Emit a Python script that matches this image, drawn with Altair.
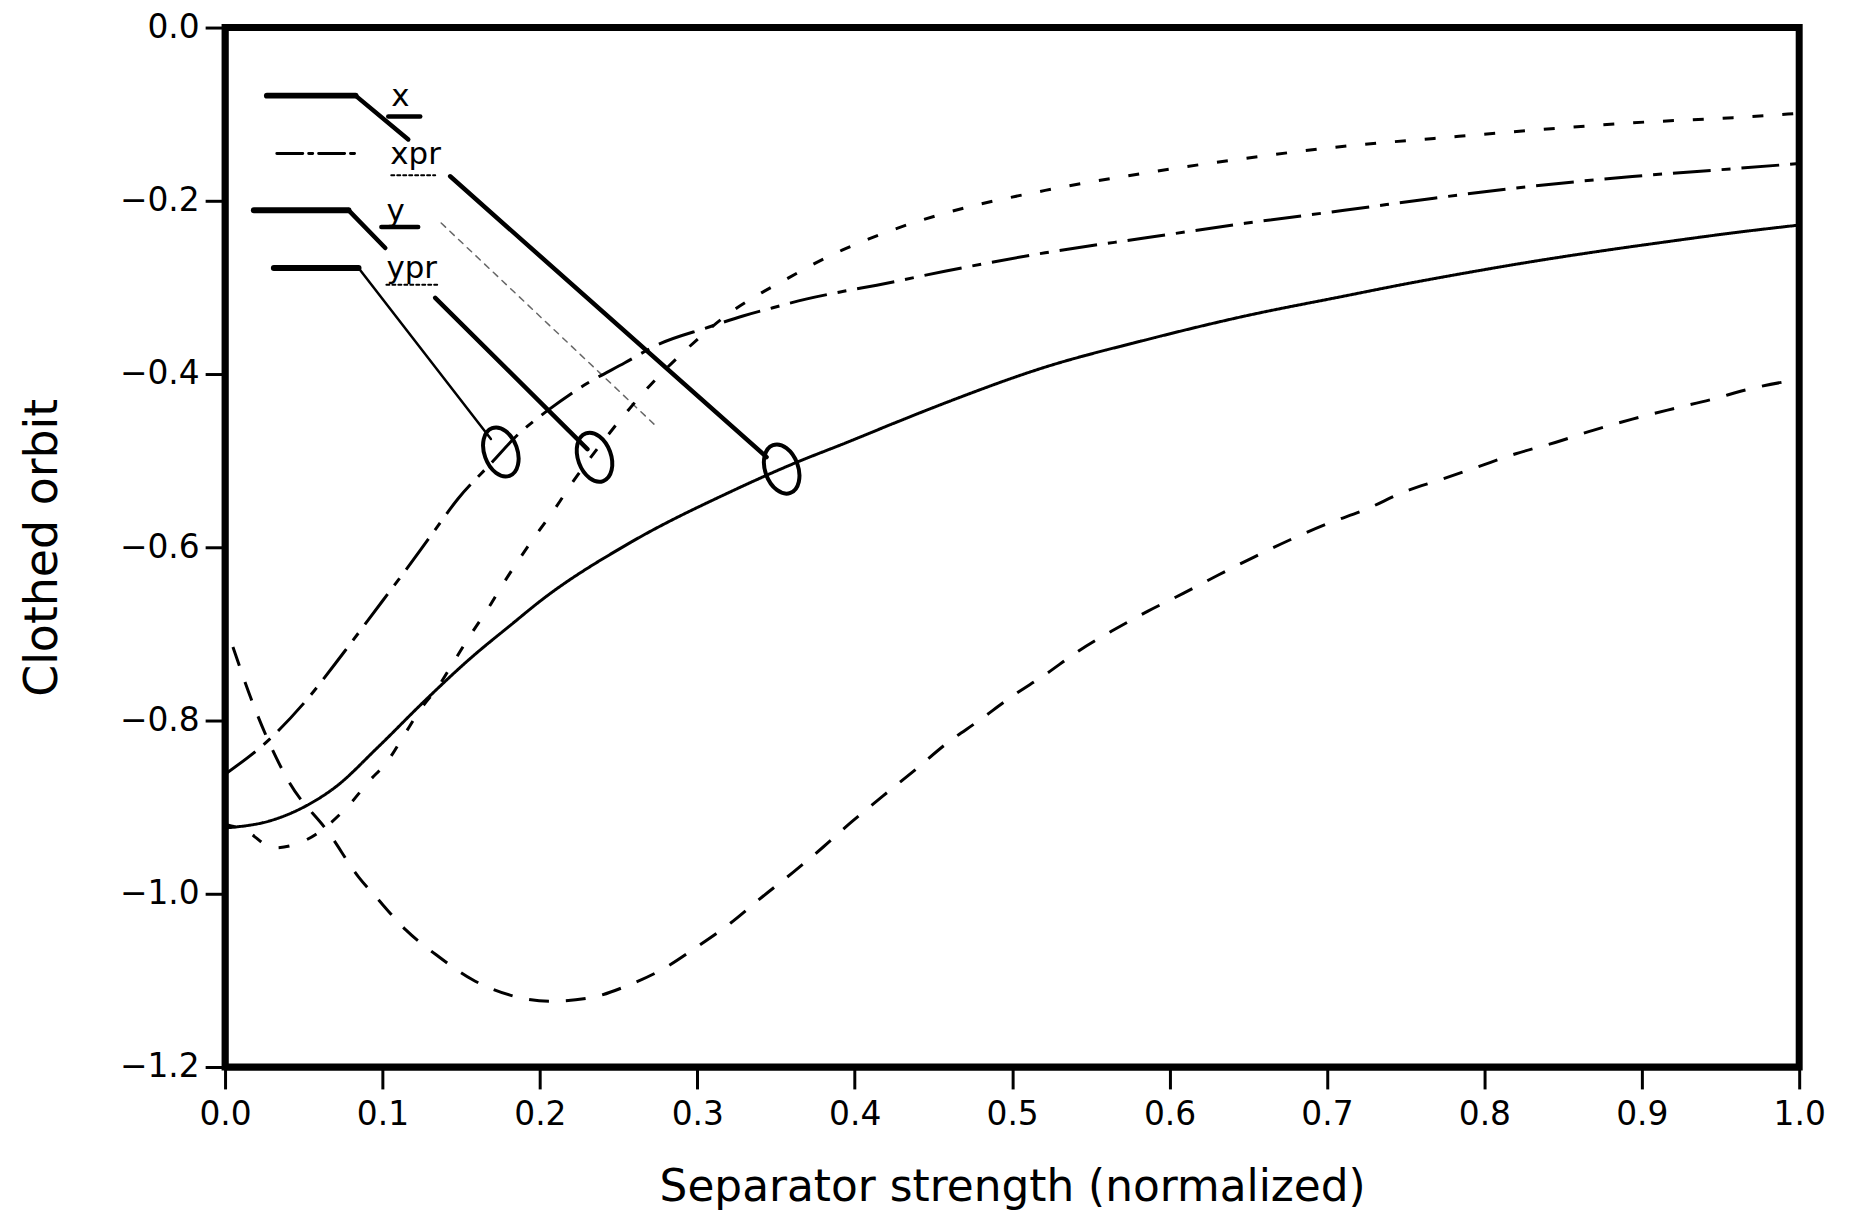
import altair as alt
import pandas as pd

# ---- curve data ----
sep_x = [0.0, 0.03, 0.052, 0.07, 0.097, 0.127, 0.156, 0.182, 0.201, 0.258, 0.321, 0.363,
         0.395, 0.426, 0.458, 0.521, 0.584, 0.648, 0.711, 0.747, 0.789, 0.831, 0.874,
         0.915, 0.958, 1.0]
orbit_x = [-0.924, -0.915, -0.898, -0.877, -0.831, -0.777, -0.728, -0.689, -0.661, -0.594,
           -0.536, -0.502, -0.479, -0.456, -0.433, -0.392, -0.361, -0.333, -0.310, -0.297,
           -0.283, -0.270, -0.258, -0.2475, -0.237, -0.228]

sep_xpr = [0.0, 0.028, 0.051, 0.076, 0.100, 0.110, 0.131, 0.148, 0.169, 0.186, 0.205, 0.228,
           0.254, 0.275, 0.307, 0.329, 0.348, 0.369, 0.393, 0.414, 0.458, 0.521, 0.584,
           0.648, 0.711, 0.768, 0.831, 0.894, 0.958, 1.0]
orbit_xpr = [-0.862, -0.822, -0.778, -0.720, -0.662, -0.638, -0.586, -0.544, -0.503, -0.470,
             -0.442, -0.413, -0.387, -0.366, -0.346, -0.333, -0.3235, -0.3135, -0.3045,
             -0.2975, -0.281, -0.260, -0.243, -0.226, -0.211, -0.197, -0.183, -0.172, -0.163,
             -0.157]

sep_y = [0.005, 0.017, 0.040, 0.066, 0.085, 0.096, 0.115, 0.136, 0.157, 0.181, 0.207, 0.232,
         0.257, 0.279, 0.300, 0.321, 0.341, 0.361, 0.380, 0.398, 0.418, 0.439, 0.458, 0.479,
         0.500, 0.521, 0.542, 0.563, 0.586, 0.609, 0.631, 0.654, 0.677, 0.700, 0.725, 0.749,
         0.772, 0.796, 0.820, 0.845, 0.869, 0.894, 0.920, 0.945, 0.969, 1.0]
orbit_y = [-0.715, -0.777, -0.869, -0.930, -0.981, -1.004, -1.042, -1.073, -1.099, -1.117,
           -1.124, -1.120, -1.105, -1.086, -1.061, -1.034, -1.004, -0.975, -0.946, -0.917,
           -0.887, -0.856, -0.827, -0.800, -0.772, -0.747, -0.720, -0.697, -0.674, -0.653,
           -0.632, -0.611, -0.591, -0.573, -0.556, -0.536, -0.522, -0.507, -0.492, -0.479,
           -0.465, -0.452, -0.440, -0.429, -0.417, -0.406]

sep_ypr = [0.0, 0.013, 0.031, 0.049, 0.0795, 0.091, 0.104, 0.114, 0.125, 0.135, 0.146, 0.156,
           0.168, 0.175, 0.199, 0.209, 0.220, 0.243, 0.256, 0.268, 0.294, 0.324, 0.341, 0.358,
           0.375, 0.392, 0.409, 0.425, 0.458, 0.521, 0.584, 0.648, 0.711, 0.768, 0.831, 0.894,
           0.958, 1.0]
orbit_ypr = [-0.920, -0.927, -0.947, -0.940, -0.896, -0.871, -0.845, -0.816, -0.785, -0.762,
             -0.730, -0.701, -0.668, -0.647, -0.582, -0.557, -0.527, -0.471, -0.442, -0.417,
             -0.370, -0.325, -0.306, -0.289, -0.272, -0.257, -0.244, -0.233, -0.214, -0.188,
             -0.168, -0.151, -0.137, -0.128, -0.1185, -0.110, -0.104, -0.099]

series_names = ["x", "xpr", "y", "ypr"]
x_ticks = [0.0, 0.1, 0.2, 0.3, 0.4, 0.5, 0.6, 0.7, 0.8, 0.9, 1.0]
y_ticks = [0.0, -0.2, -0.4, -0.6, -0.8, -1.0, -1.2]

# ---- hand-drawn legend / annotation (in data units) ----
leg_label = ["x", "xpr", "y", "ypr"]
leg_label_sep = [0.1056, 0.105, 0.1025, 0.1025]
leg_label_orbit = [-0.091, -0.157, -0.2235, -0.289]

thick_sep1 = [0.0266, 0.0183, 0.031]
thick_sep2 = [0.0829, 0.0784, 0.0848]
thick_orbit = [-0.0786, -0.2108, -0.2775]

xpr_leg_sep = [0.0329, 0.086]
xpr_leg_orbit = [-0.1453, -0.1453]

arrow_sep1 = [0.0829, 0.0784, 0.143, 0.1335]
arrow_sep2 = [0.1164, 0.1018, 0.344, 0.2302]
arrow_orbit1 = [-0.0786, -0.2108, -0.1717, -0.312]
arrow_orbit2 = [-0.1292, -0.2545, -0.4959, -0.4867]

thin_sep1 = [0.0848]
thin_sep2 = [0.1689]
thin_orbit1 = [-0.2775]
thin_orbit2 = [-0.475]

faint_sep1 = [0.1373]
faint_sep2 = [0.2726]
faint_orbit1 = [-0.2257]
faint_orbit2 = [-0.458]

uline_sep1 = [0.1037, 0.0993]
uline_sep2 = [0.124, 0.1227]
uline_orbit = [-0.1028, -0.2303]

dot_uline_sep1 = [0.1056, 0.1025]
dot_uline_sep2 = [0.1335, 0.1366]
dot_uline_orbit = [-0.1706, -0.297]

loop_sep = [0.3536, 0.2347, 0.1752]
loop_orbit = [-0.5097, -0.496, -0.490]

# ---- build tables ----
rows = []
for name, xs, ys in zip(series_names,
                        [sep_x, sep_xpr, sep_y, sep_ypr],
                        [orbit_x, orbit_xpr, orbit_y, orbit_ypr]):
    for a, b in zip(xs, ys):
        rows.append({"series": name, "sep": a, "orbit": b})
curves = pd.DataFrame(rows)

FONT = "DejaVu Sans"

xscale = alt.Scale(domain=[0, 1], nice=False, zero=False)
yscale = alt.Scale(domain=[-1.2, 0], nice=False, zero=False)

x_axis = alt.Axis(values=x_ticks, format=".1f", title="Separator strength (normalized)",
                  grid=False, domainWidth=6, domainColor="black", tickWidth=3, tickSize=22,
                  tickColor="black", labelFontSize=33, labelFont=FONT, labelPadding=10,
                  labelColor="black", labelFlush=False, titleFontSize=44, titleFont=FONT,
                  titleFontWeight="normal", titleColor="black", titleY=134,
                  titleBaseline="alphabetic")
y_axis = alt.Axis(values=y_ticks, format=".1f", title="Clothed orbit", grid=False,
                  domainWidth=6, domainColor="black", tickWidth=3, tickSize=20,
                  tickColor="black", labelFontSize=33, labelFont=FONT, labelPadding=6,
                  labelColor="black", labelFlush=False, titleFontSize=46, titleFont=FONT,
                  titleFontWeight="normal", titleColor="black", titleX=-169, titleY=522,
                  titleAngle=270, titleBaseline="alphabetic", titleAlign="center")

lines = alt.Chart(curves).mark_line(color="black", strokeWidth=3, interpolate="monotone",
                                    clip=True, strokeCap="butt").encode(
    x=alt.X("sep:Q", scale=xscale, axis=x_axis),
    y=alt.Y("orbit:Q", scale=yscale, axis=y_axis),
    detail="series:N",
    strokeDash=alt.StrokeDash("series:N",
                              scale=alt.Scale(domain=series_names,
                                              range=[[1, 0], [38, 11, 9, 11], [20, 17], [11, 19]]),
                              legend=None),
)


def seg_layer(s1, s2, o1, o2, **mark):
    df = pd.DataFrame({"s1": s1, "s2": s2, "o1": o1, "o2": o2})
    return alt.Chart(df).mark_rule(color="black", strokeCap="round", **mark).encode(
        x=alt.X("s1:Q", scale=xscale), x2="s2:Q",
        y=alt.Y("o1:Q", scale=yscale), y2="o2:Q")


thick = seg_layer(thick_sep1, thick_sep2, thick_orbit, thick_orbit, strokeWidth=6)
xpr_leg = seg_layer(xpr_leg_sep[:1], xpr_leg_sep[1:], xpr_leg_orbit[:1], xpr_leg_orbit[1:],
                    strokeWidth=3, strokeDash=[26, 6, 4, 6])
arrows = seg_layer(arrow_sep1, arrow_sep2, arrow_orbit1, arrow_orbit2, strokeWidth=4.5)
thin = seg_layer(thin_sep1, thin_sep2, thin_orbit1, thin_orbit2, strokeWidth=2.5)
faint = seg_layer(faint_sep1, faint_sep2, faint_orbit1, faint_orbit2, strokeWidth=1.5,
                  strokeDash=[6, 6], opacity=0.6)
ulines = seg_layer(uline_sep1, uline_sep2, uline_orbit, uline_orbit, strokeWidth=4.5)
dot_ulines = seg_layer(dot_uline_sep1, dot_uline_sep2, dot_uline_orbit, dot_uline_orbit,
                       strokeWidth=2, strokeDash=[3, 3])

loops_df = pd.DataFrame({"s": loop_sep, "o": loop_orbit})
loops = alt.Chart(loops_df).mark_point(
    shape="M0,-1 A0.65,1 0 1,1 0,1 A0.65,1 0 1,1 0,-1 Z", filled=False, color="black",
    strokeWidth=4, opacity=1, angle=340).encode(
    x=alt.X("s:Q", scale=xscale), y=alt.Y("o:Q", scale=yscale),
    size=alt.value(2600))

labels_df = pd.DataFrame({"label": leg_label, "s": leg_label_sep, "o": leg_label_orbit})
labels = alt.Chart(labels_df).mark_text(align="left", baseline="alphabetic", fontSize=31,
                                         font=FONT, color="black").encode(
    x=alt.X("s:Q", scale=xscale), y=alt.Y("o:Q", scale=yscale), text="label:N")

chart = alt.layer(lines, thick, xpr_leg, arrows, thin, faint, ulines, dot_ulines, loops,
                  labels).properties(
    width=1581, height=1044,
    autosize=alt.AutoSizeParams(type="none"),
    padding={"left": 218, "top": 17, "right": 44, "bottom": 148},
    background="white",
).configure_view(stroke="black", strokeWidth=7)

chart.save("out.html", embed_options={"renderer": "svg", "actions": False})
